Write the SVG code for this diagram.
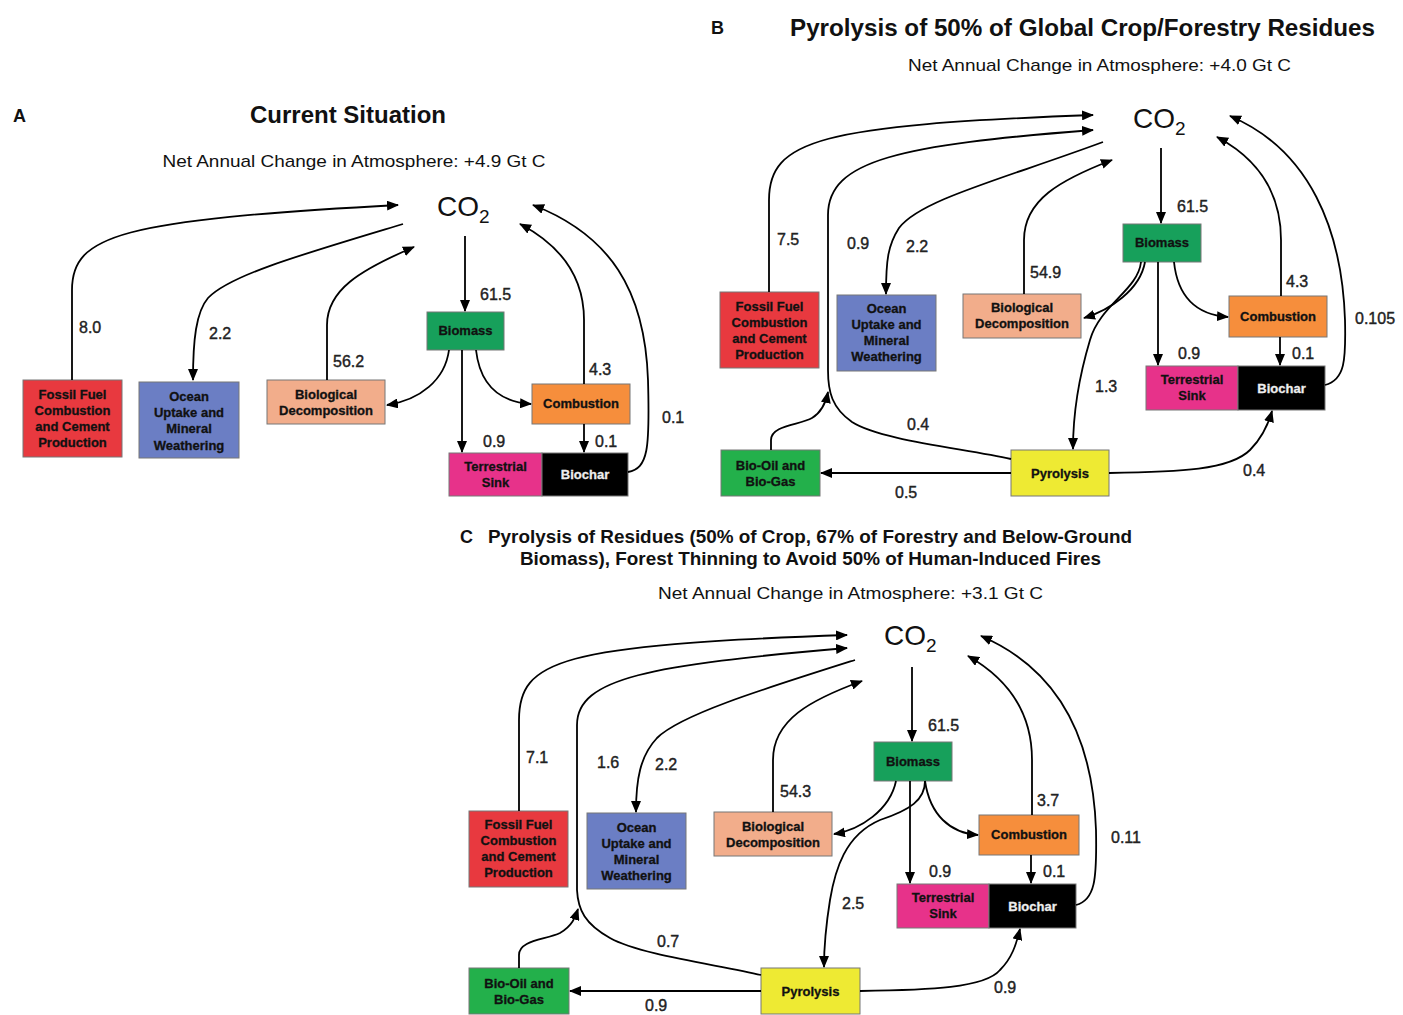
<svg xmlns="http://www.w3.org/2000/svg" width="1403" height="1015" viewBox="0 0 1403 1015">
<defs>
<marker id="ah" viewBox="0 0 12 10" refX="11" refY="5" markerWidth="12" markerHeight="10" markerUnits="userSpaceOnUse" orient="auto"><path d="M0,0 L12,5 L0,10 z" fill="#000"/></marker>
<style>
.t{font-family:"Liberation Sans",Arial,sans-serif;fill:#111}
.hd{font-weight:bold;font-size:24px}
.sub{font-size:17px}
.pl{font-weight:bold;font-size:18px}
.co{font-size:28px}
.co2{font-size:19px}
.nl{font-family:"Liberation Sans",Arial,sans-serif;font-weight:bold;font-size:13px;fill:#111;stroke:#111;stroke-width:0.3;text-anchor:middle}
.w{fill:#eee;stroke:#eee}
.num{font-family:"Liberation Sans",Arial,sans-serif;font-size:16px;fill:#222;stroke:#222;stroke-width:0.4}
.bx{stroke:#777;stroke-width:1}
.c{fill:none;stroke:#000;stroke-width:1.8}
.a{marker-end:url(#ah)}
.red{fill:#e8393f}.blu{fill:#6b7ec4}.sal{fill:#f2ad8b}.grn{fill:#17a05b}.org{fill:#f68e3c}.pnk{fill:#e7328a}.blk{fill:#000}.yel{fill:#eeea33}.bog{fill:#23b04b}
</style>
</defs>
<rect width="1403" height="1015" fill="#fff"/>

<!-- ===== Panel A ===== -->
<g id="panelA-titles">
<text class="t" x="13" y="122" font-weight="bold" font-size="18">A</text>
<text class="t hd" x="348" y="123" text-anchor="middle" textLength="196" lengthAdjust="spacingAndGlyphs">Current Situation</text>
<text class="t sub" x="354" y="167" text-anchor="middle" textLength="383" lengthAdjust="spacingAndGlyphs">Net Annual Change in Atmosphere: +4.9 Gt C</text>
</g>
<g id="A-co2"><text class="t co" x="437" y="216">CO<tspan class="co2" dy="7">2</tspan></text></g>
<g id="A-fossil"><rect class="bx red" x="23" y="380" width="99" height="77"/><text class="nl" x="72.5" y="399">Fossil Fuel</text><text class="nl" x="72.5" y="415">Combustion</text><text class="nl" x="72.5" y="431">and Cement</text><text class="nl" x="72.5" y="447">Production</text></g>
<g id="A-ocean"><rect class="bx blu" x="139" y="382" width="100" height="76"/><text class="nl" x="189" y="401">Ocean</text><text class="nl" x="189" y="417">Uptake and</text><text class="nl" x="189" y="433">Mineral</text><text class="nl" x="189" y="450">Weathering</text></g>
<g id="A-decomp"><rect class="bx sal" x="267" y="380" width="118" height="44"/><text class="nl" x="326" y="399">Biological</text><text class="nl" x="326" y="415">Decomposition</text></g>
<g id="A-biomass"><rect class="bx grn" x="427" y="312" width="77" height="38"/><text class="nl" x="465.5" y="335">Biomass</text></g>
<g id="A-combustion"><rect class="bx org" x="532" y="384" width="98" height="40"/><text class="nl" x="581" y="408">Combustion</text></g>
<g id="A-terrestrial"><rect class="bx pnk" x="449" y="453" width="93" height="43"/><text class="nl" x="495.5" y="471">Terrestrial</text><text class="nl" x="495.5" y="487">Sink</text></g>
<g id="A-biochar"><rect class="bx blk" x="542" y="453" width="86" height="43"/><text class="nl w" x="585" y="479">Biochar</text></g>
<g id="A-connectors">
<path class="c a" d="M72,380 L72,290 C72,235 120,220 398,205"/>
<path class="c a" d="M403,224 C300,255 230,275 208,298 C196,312 193,340 193,380"/>
<path class="c a" d="M327,380 L327,325 C327,290 360,270 414,247"/>
<path class="c a" d="M465,236 L465,311"/>
<path class="c a" d="M462,350 L462,452"/>
<path class="c a" d="M449,350 C445,380 420,400 387,405"/>
<path class="c a" d="M476,350 C480,385 500,402 531,404"/>
<path class="c a" d="M584,384 L584,320 C584,275 560,245 520,224"/>
<path class="c a" d="M584,424 L584,452"/>
<path class="c a" d="M628,472 C648,468 650,450 648,380 C645,290 610,235 533,205"/>
<text class="num" x="79" y="333">8.0</text>
<text class="num" x="209" y="339">2.2</text>
<text class="num" x="333" y="367">56.2</text>
<text class="num" x="480" y="300">61.5</text>
<text class="num" x="589" y="375">4.3</text>
<text class="num" x="483" y="447">0.9</text>
<text class="num" x="595" y="447">0.1</text>
<text class="num" x="662" y="423">0.1</text>
</g>

<!-- ===== Panel B ===== -->
<g id="panelB-titles">
<text class="t" x="711" y="34" font-weight="bold" font-size="18">B</text>
<text class="t hd" x="790" y="36" textLength="585" lengthAdjust="spacingAndGlyphs">Pyrolysis of 50% of Global Crop/Forestry Residues</text>
<text class="t sub" x="908" y="71" textLength="383" lengthAdjust="spacingAndGlyphs">Net Annual Change in Atmosphere: +4.0 Gt C</text>
</g>
<g id="B-co2"><text class="t co" x="1133" y="128">CO<tspan class="co2" dy="7">2</tspan></text></g>
<g id="B-fossil"><rect class="bx red" x="720" y="292" width="99" height="76"/><text class="nl" x="769.5" y="311">Fossil Fuel</text><text class="nl" x="769.5" y="327">Combustion</text><text class="nl" x="769.5" y="343">and Cement</text><text class="nl" x="769.5" y="359">Production</text></g>
<g id="B-ocean"><rect class="bx blu" x="837" y="295" width="99" height="76"/><text class="nl" x="886.5" y="313">Ocean</text><text class="nl" x="886.5" y="329">Uptake and</text><text class="nl" x="886.5" y="345">Mineral</text><text class="nl" x="886.5" y="361">Weathering</text></g>
<g id="B-decomp"><rect class="bx sal" x="963" y="294" width="118" height="44"/><text class="nl" x="1022" y="312">Biological</text><text class="nl" x="1022" y="328">Decomposition</text></g>
<g id="B-biomass"><rect class="bx grn" x="1123" y="224" width="78" height="38"/><text class="nl" x="1162" y="247">Biomass</text></g>
<g id="B-combustion"><rect class="bx org" x="1229" y="296" width="98" height="41"/><text class="nl" x="1278" y="321">Combustion</text></g>
<g id="B-terrestrial"><rect class="bx pnk" x="1146" y="366" width="92" height="44"/><text class="nl" x="1192" y="384">Terrestrial</text><text class="nl" x="1192" y="400">Sink</text></g>
<g id="B-biochar"><rect class="bx blk" x="1238" y="366" width="87" height="44"/><text class="nl w" x="1281.5" y="393">Biochar</text></g>
<g id="B-pyrolysis"><rect class="bx yel" x="1011" y="450" width="98" height="46"/><text class="nl" x="1060" y="478">Pyrolysis</text></g>
<g id="B-biooil"><rect class="bx bog" x="721" y="450" width="99" height="46"/><text class="nl" x="770.5" y="470">Bio-Oil and</text><text class="nl" x="770.5" y="486">Bio-Gas</text></g>
<g id="B-connectors">
<path class="c a" d="M769,292 L769,200 C769,140 820,125 1093,115"/>
<path class="c a" d="M1011,459 C960,448 880,440 852,422 C832,408 828,392 828,370 L828,215 C828,160 900,145 1093,130"/>
<path class="c a" d="M771,450 L771,440 C771,425 800,425 812,418 C822,412 826,402 828,392"/>
<path class="c a" d="M1103,142 C1000,180 920,200 899,228 C888,245 886,260 886,294"/>
<path class="c a" d="M1024,294 L1024,240 C1024,200 1060,180 1112,160"/>
<path class="c a" d="M1161,148 L1161,223"/>
<path class="c a" d="M1158,262 L1158,365"/>
<path class="c a" d="M1145,262 C1140,290 1110,310 1084,318"/>
<path class="c a" d="M1141,262 C1138,290 1100,305 1090,340 C1078,380 1073,420 1073,449"/>
<path class="c a" d="M1174,262 C1178,300 1200,315 1228,317"/>
<path class="c a" d="M1281,296 L1281,240 C1281,195 1260,160 1217,137"/>
<path class="c a" d="M1280,337 L1280,365"/>
<path class="c a" d="M1325,385 C1345,380 1346,360 1345,320 C1342,230 1310,150 1230,116"/>
<path class="c a" d="M1109,473 C1180,472 1230,470 1250,450 C1262,438 1268,425 1272,411"/>
<path class="c a" d="M1011,473 L821,473"/>
<text class="num" x="777" y="245">7.5</text>
<text class="num" x="847" y="249">0.9</text>
<text class="num" x="906" y="252">2.2</text>
<text class="num" x="1030" y="278">54.9</text>
<text class="num" x="907" y="430">0.4</text>
<text class="num" x="895" y="498">0.5</text>
<text class="num" x="1177" y="212">61.5</text>
<text class="num" x="1286" y="287">4.3</text>
<text class="num" x="1178" y="359">0.9</text>
<text class="num" x="1292" y="359">0.1</text>
<text class="num" x="1095" y="392">1.3</text>
<text class="num" x="1355" y="324">0.105</text>
<text class="num" x="1243" y="476">0.4</text>
</g>

<!-- ===== Panel C ===== -->
<g id="panelC-titles">
<text class="t pl" x="460" y="543" font-weight="normal">C</text>
<text class="t pl" x="488" y="543" textLength="644" lengthAdjust="spacingAndGlyphs">Pyrolysis of Residues (50% of Crop, 67% of Forestry and Below-Ground</text>
<text class="t pl" x="520" y="565" textLength="581" lengthAdjust="spacingAndGlyphs">Biomass), Forest Thinning to Avoid 50% of Human-Induced Fires</text>
<text class="t sub" x="658" y="599" textLength="385" lengthAdjust="spacingAndGlyphs">Net Annual Change in Atmosphere: +3.1 Gt C</text>
</g>
<g id="C-co2"><text class="t co" x="884" y="645">CO<tspan class="co2" dy="7">2</tspan></text></g>
<g id="C-fossil"><rect class="bx red" x="469" y="811" width="99" height="76"/><text class="nl" x="518.5" y="829">Fossil Fuel</text><text class="nl" x="518.5" y="845">Combustion</text><text class="nl" x="518.5" y="861">and Cement</text><text class="nl" x="518.5" y="877">Production</text></g>
<g id="C-ocean"><rect class="bx blu" x="587" y="813" width="99" height="76"/><text class="nl" x="636.5" y="832">Ocean</text><text class="nl" x="636.5" y="848">Uptake and</text><text class="nl" x="636.5" y="864">Mineral</text><text class="nl" x="636.5" y="880">Weathering</text></g>
<g id="C-decomp"><rect class="bx sal" x="714" y="812" width="118" height="44"/><text class="nl" x="773" y="831">Biological</text><text class="nl" x="773" y="847">Decomposition</text></g>
<g id="C-biomass"><rect class="bx grn" x="874" y="742" width="78" height="39"/><text class="nl" x="913" y="766">Biomass</text></g>
<g id="C-combustion"><rect class="bx org" x="979" y="815" width="100" height="40"/><text class="nl" x="1029" y="839">Combustion</text></g>
<g id="C-terrestrial"><rect class="bx pnk" x="897" y="884" width="92" height="44"/><text class="nl" x="943" y="902">Terrestrial</text><text class="nl" x="943" y="918">Sink</text></g>
<g id="C-biochar"><rect class="bx blk" x="989" y="884" width="87" height="44"/><text class="nl w" x="1032.5" y="911">Biochar</text></g>
<g id="C-pyrolysis"><rect class="bx yel" x="761" y="968" width="99" height="46"/><text class="nl" x="810.5" y="996">Pyrolysis</text></g>
<g id="C-biooil"><rect class="bx bog" x="469" y="968" width="100" height="46"/><text class="nl" x="519" y="988">Bio-Oil and</text><text class="nl" x="519" y="1004">Bio-Gas</text></g>
<g id="C-connectors">
<path class="c a" d="M519,811 L519,720 C519,660 560,645 847,635"/>
<path class="c a" d="M761,975 C720,965 640,955 610,938 C585,924 578,910 577,890 L577,725 C577,678 650,665 847,648"/>
<path class="c a" d="M519,968 L519,955 C519,940 545,940 560,933 C572,926 575,918 578,909"/>
<path class="c a" d="M855,660 C760,690 680,715 657,738 C640,756 636,780 636,812"/>
<path class="c a" d="M773,812 L773,760 C773,720 810,700 862,681"/>
<path class="c a" d="M912,667 L912,741"/>
<path class="c a" d="M910,781 L910,883"/>
<path class="c a" d="M896,781 C890,810 860,830 834,834"/>
<path class="c a" d="M925,781 C925,800 910,810 880,820 C845,835 835,870 830,900 C826,925 824,950 824,967"/>
<path class="c a" d="M925,781 C930,815 950,833 978,835"/>
<path class="c a" d="M1032,815 L1032,760 C1032,715 1010,680 968,656"/>
<path class="c a" d="M1031,855 L1031,883"/>
<path class="c a" d="M1076,905 C1095,900 1097,880 1096,830 C1093,740 1060,670 981,636"/>
<path class="c a" d="M860,991 C930,990 985,988 1000,970 C1012,958 1016,945 1020,929"/>
<path class="c a" d="M761,991 L570,991"/>
<text class="num" x="526" y="763">7.1</text>
<text class="num" x="597" y="768">1.6</text>
<text class="num" x="655" y="770">2.2</text>
<text class="num" x="780" y="797">54.3</text>
<text class="num" x="842" y="909">2.5</text>
<text class="num" x="657" y="947">0.7</text>
<text class="num" x="645" y="1011">0.9</text>
<text class="num" x="928" y="731">61.5</text>
<text class="num" x="1037" y="806">3.7</text>
<text class="num" x="929" y="877">0.9</text>
<text class="num" x="1043" y="877">0.1</text>
<text class="num" x="1111" y="843">0.11</text>
<text class="num" x="994" y="993">0.9</text>
</g>
</svg>
